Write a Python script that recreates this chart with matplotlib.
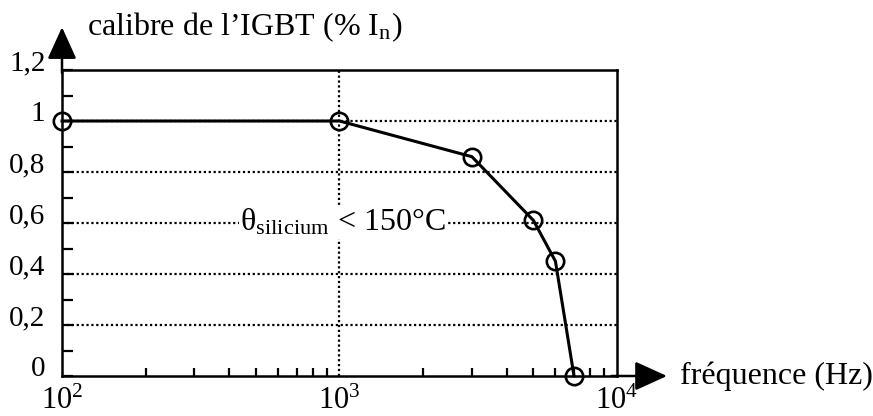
import numpy as np
import matplotlib
matplotlib.use('Agg')
import matplotlib.pyplot as plt
import matplotlib.transforms as mtransforms

plt.rcParams['font.family'] = ['Liberation Serif', 'DejaVu Serif']
plt.rcParams['mathtext.fontset'] = 'stix'

# data
freq = [100, 1000, 3000, 5000, 6000, 7000]
calibre = [1.0, 1.0, 0.86, 0.61, 0.45, 0.0]

y_ticks = [0, 0.2, 0.4, 0.6, 0.8, 1.0, 1.2]
y_labels = ['0', '0,2', '0,4', '0,6', '0,8', '1', '1,2']
x_ticks = [1e2, 1e3, 1e4]
x_labels = ['$\\mathregular{10^{2}}$', '$\\mathregular{10^{3}}$', '$\\mathregular{10^{4}}$']

fig = plt.figure(figsize=(8.73, 4.16), dpi=100)
ax = fig.add_axes([62/873, 1 - 376/416, 555/873, 306/416])

ax.set_xscale('log')
ax.set_xlim(1e2, 1e4)
ax.set_ylim(0, 1.2)

# dotted grid
for yv in [0.2, 0.4, 0.6, 0.8, 1.0]:
    ax.axhline(yv, color='k', lw=1.6, ls=(0, (1, 1.2)), zorder=1)
ax.axvline(1e3, color='k', lw=1.6, ls=(0, (1, 1.2)), zorder=1)

ax.plot(freq, calibre, color='k', lw=2.2, marker='o', ms=12.5,
        mfc='none', mec='k', mew=1.9, clip_on=False, zorder=3)

for s in ax.spines.values():
    s.set_linewidth(1.8)

ax.set_yticks(y_ticks)
ax.set_yticklabels(y_labels)
ax.set_yticks([0.1, 0.3, 0.5, 0.7, 0.9, 1.1], minor=True)
ax.set_xticks(x_ticks)
ax.set_xticklabels(x_labels)
ax.tick_params(axis='y', which='both', direction='in', length=8, width=1.6,
               labelsize=21, pad=12)
ax.tick_params(axis='x', which='major', direction='in', length=0,
               labelsize=22, pad=8)
ax.tick_params(axis='x', which='minor', direction='in', length=6, width=1.6,
               labelbottom=False)

off = mtransforms.ScaledTranslation(0, 10/100, fig.dpi_scale_trans)
for lab in ax.get_yticklabels():
    lab.set_transform(lab.get_transform() + off)

# axis arrows
arrow_style = '-|>,head_length=1.1,head_width=0.5'
ax.annotate('', xy=(0, 1.14), xytext=(0, 0.99), xycoords='axes fraction',
            arrowprops=dict(arrowstyle=arrow_style, lw=1.8, color='k',
                            mutation_scale=18, shrinkA=0, shrinkB=0),
            annotation_clip=False)
ax.annotate('', xy=(1.09, 0), xytext=(0.99, 0), xycoords='axes fraction',
            arrowprops=dict(arrowstyle=arrow_style, lw=1.8, color='k',
                            mutation_scale=18, shrinkA=0, shrinkB=0),
            annotation_clip=False)

ax.text(0.045, 1.114, 'calibre de l\u2019IGBT (% I$_\\mathregular{n}$)',
        transform=ax.transAxes, fontsize=23, ha='left', va='baseline')
ax.text(1.1135, 0, 'fr\u00e9quence (Hz)', transform=ax.transAxes,
        fontsize=23, ha='left', va='center')

ax.text(0.321, 0.6, '\u03b8$_{\\mathregular{silicium}}$ < 150\u00b0C',
        transform=ax.get_yaxis_transform(), fontsize=23, ha='left',
        va='center', zorder=2,
        bbox=dict(facecolor='white', edgecolor='none', pad=1))

fig.savefig('out.png', dpi=100)
